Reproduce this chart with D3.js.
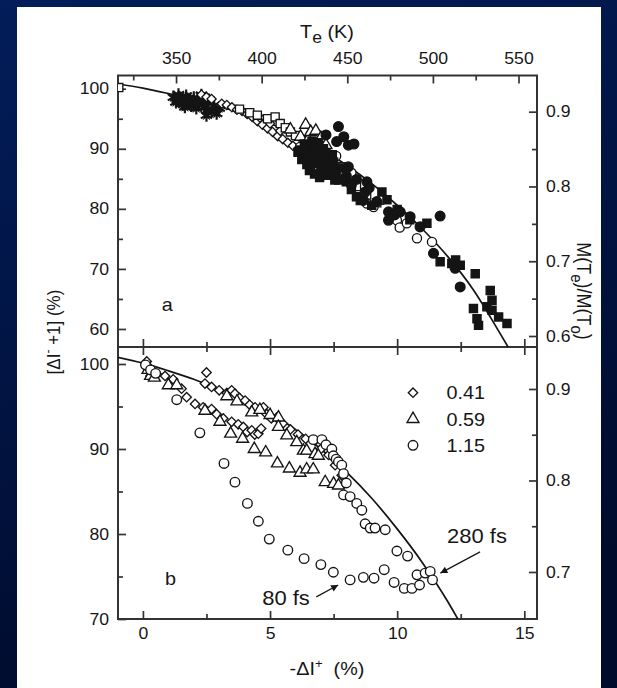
<!DOCTYPE html>
<html>
<head>
<meta charset="utf-8">
<script src="https://cdn.jsdelivr.net/npm/d3@7"></script>
<style>
  html, body { margin: 0; padding: 0; background: #001a55; }
  svg { display: block; }
  text { font-family: "Liberation Sans", Arial, Helvetica, sans-serif; fill: #161616; }
</style>
</head>
<body>
<svg id="chart" width="617" height="688"></svg>
<script>
// ---------- data ----------
// magnetisation fit curve, x = -ΔI+ (%), y = [ΔI- + 1] (%)
const fitX = [-1, 0, 1, 2, 3, 4, 5, 6, 7, 8, 9, 10, 11, 12, 13, 14, 14.6];
const fitY = [100.8, 100.1, 99.2, 98.2, 97.0, 95.8, 94.2, 92.3, 90.0, 87.3, 84.2, 80.6, 76.6, 72.0, 66.5, 59.6, 55.3];

// panel a series
const starsA = [[1.2,98.6],[1.3,97.8],[1.35,98.2],[1.4,99.0],[1.45,98.5],[1.5,98.2],[1.55,97.6],[1.6,97.4],[1.65,97.0],[1.7,98.8],[1.75,98.3],[1.8,97.9],[1.9,97.2],[2.0,98.5],[2.1,96.8],[2.2,97.6],[2.3,98.9],[2.35,98.0],[2.4,97.0],[2.5,95.6],[2.55,96.4],[2.6,98.1],[2.7,96.3],[2.8,97.2],[2.9,95.9],[3.0,96.8]];
const diamondsA = [[2.3,99.0],[2.5,98.6],[2.7,98.3],[3.1,97.5],[3.3,97.3],[3.5,96.9],[3.7,96.5],[3.9,96.3],[4.1,95.8],[4.3,95.3],[4.5,94.6],[4.6,95.2],[4.7,94.0],[4.9,93.4],[5.0,94.2],[5.1,92.8],[5.3,92.1],[5.4,93.0],[5.5,91.6],[5.7,91.0],[5.9,90.5],[6.1,90.0]];
const squaresA = [[-0.95,100.2],[3.8,96.6],[4.2,96.0],[4.5,95.6],[4.9,95.0],[5.2,95.3],[5.4,94.2],[5.6,93.5],[5.8,92.8],[6.0,92.2],[6.3,91.4],[6.6,90.5],[7.0,89.4],[7.4,88.2],[7.8,87.0],[8.2,85.4],[8.4,83.7],[8.8,82.3],[9.2,81.0]];
const trianglesA = [[5.8,93.2],[6.2,92.0],[6.4,94.0],[6.5,91.5],[6.6,92.8],[6.8,93.0],[7.0,91.8],[7.2,90.6]];
const openCirclesA = [[6.18,90.3],[7.0,89.8],[7.6,88.8],[8.2,86.0],[8.81,80.9],[9.07,80.3],[9.4,81.5],[9.99,78.1],[10.1,76.9],[10.38,77.6],[10.78,75.1],[11.37,74.5]];
const filledSquaresA = [[6.1,89.4],[6.2,89.8],[6.25,88.2],[6.3,88.6],[6.35,90.8],[6.4,90.5],[6.45,87.4],[6.5,89.0],[6.55,86.4],[6.6,88.0],[6.6,86.9],[6.65,91.3],[6.7,90.2],[6.75,85.8],[6.8,89.2],[6.85,88.3],[6.9,87.6],[6.9,91.0],[6.95,85.2],[7.0,88.7],[7.0,86.2],[7.05,89.8],[7.1,90.0],[7.15,87.8],[7.2,87.0],[7.2,89.4],[7.25,85.6],[7.3,88.5],[7.35,86.8],[7.4,86.0],[7.45,89.0],[7.5,87.8],[7.55,84.8],[7.6,85.5],[7.7,84.8],[7.8,86.8],[8.0,84.5],[8.2,83.2],[8.4,82.0],[8.55,81.4],[9.0,80.6],[9.4,82.8],[9.6,81.5],[10.0,79.9],[10.5,78.2],[11.17,77.6],[11.69,71.2],[12.15,70.9],[12.3,71.5],[12.48,70.6],[13.07,69.2],[13.0,63.4],[13.14,61.7],[13.2,60.6],[13.53,63.7],[13.66,66.4],[13.73,64.8],[13.73,63.1],[13.99,62.0],[14.32,60.9]];
const filledCirclesA = [[7.2,92.3],[7.5,86.5],[7.62,91.2],[7.69,93.7],[7.9,92.0],[8.0,85.5],[8.08,90.6],[8.08,87.0],[8.3,90.8],[8.4,84.9],[8.2,84.0],[8.67,81.4],[8.74,82.8],[8.81,84.5],[8.9,83.5],[9.2,81.2],[9.66,78.1],[9.66,79.5],[9.9,79.0],[10.12,79.5],[10.51,78.7],[10.9,77.0],[11.43,72.6],[11.69,78.8],[12.28,70.1],[12.48,67.0]];

// panel b series (legend values)
const diamondsB = [[0.15,100.3],[0.25,99.6],[0.3,98.6],[0.4,99.1],[0.55,98.8],
  [2.44,97.7],[2.5,99.0],[2.7,97.3],[3.0,96.9],[3.3,96.6],[3.49,96.9],[3.62,96.5],[3.8,96.0],[4.02,95.7],[4.2,95.2],[4.41,94.9],[4.74,94.9],[4.87,94.1],[5.05,93.6],[5.26,93.7],[5.5,93.0],[5.8,92.3],[6.1,91.7],[6.4,91.2],[6.77,91.0],[7.0,90.0],[7.3,89.3],[7.56,88.1],[7.82,86.9],
  [0.87,98.6],[1.19,98.2],[1.52,97.1],[1.72,96.1],[2.05,95.3],[2.37,94.9],[2.7,94.7],[2.9,94.1],[3.16,93.6],[3.49,93.2],[3.75,92.9],[3.95,92.6],[4.1,92.0],[4.28,92.2],[4.4,91.7],[4.54,91.8],[4.65,92.4]];
const trianglesB = [[0.2,99.3],[0.3,98.6],[0.45,98.4],[1.0,97.5],[1.33,97.5],[2.44,94.5],[3.03,93.2],
  [3.3,96.2],[3.7,95.6],[4.28,94.3],[4.6,94.6],[5.0,94.0],[5.33,93.7],[5.33,92.6],[5.66,91.6],[6.05,90.8],[6.31,89.8],[6.44,89.8],[6.77,89.4],[6.9,89.2],
  [3.45,91.8],[3.92,91.2],[4.38,90.0],[4.83,89.6],[5.29,88.3],[5.76,87.7],[6.18,87.2],[6.44,87.6],[6.7,87.6],[7.17,86.1],[7.5,85.9],[7.69,85.7]];
const circlesB = [[0.1,99.9],[0.3,99.3],[0.5,98.9],
  [1.33,95.8],[2.24,91.9],[3.19,88.3],[3.62,86.1],[4.11,83.6],[4.54,81.5],[4.97,79.4],[5.7,78.1],[6.34,77.1],[7.0,76.4],[7.49,75.5],[8.15,74.6],[8.67,74.9],[9.09,74.8],[9.49,75.8],[9.88,74.3],[10.28,73.6],[10.58,73.6],[10.88,74.0],[10.78,75.2],[11.1,75.4],[11.3,75.6],[11.39,74.6],
  [6.7,91.1],[7.04,91.1],[7.2,90.5],[7.43,90.0],[7.49,89.2],[7.6,88.8],[7.69,88.5],[7.82,88.1],[7.89,87.1],[8.0,86.0],[7.89,84.6],[8.15,84.4],[8.41,83.6],[8.61,82.8],[8.74,81.2],[8.94,80.7],[9.13,80.7],[9.53,80.5],[9.99,78.0],[10.41,77.4]];

// axes
const teTicks = [350, 400, 450, 500, 550];
const teMinor = [325, 375, 425, 475, 525];
const xTicks = [0, 5, 10, 15];
const xMinor = [2.5, 7.5, 12.5];
const yTicksA = [60, 70, 80, 90, 100];
const yMinorA = [65, 75, 85, 95];
const yTicksB = [70, 80, 90, 100];
const yMinorB = [75, 85, 95];
const mTicksA = [0.6, 0.7, 0.8, 0.9];
const mMinorA = [0.65, 0.75, 0.85];
const mTicksB = [0.7, 0.8, 0.9];
const mMinorB = [0.75, 0.85];
const legendLabels = ["0.41", "0.59", "1.15"];

// annotations: [label, textX, textY, arrowFromX, arrowFromY, arrowToX, arrowToY]
const note280 = ["280 fs", 11.96, 79.0, 13.26, 77.9, 11.7, 75.4];
const note80 = ["80 fs", 4.69, 71.6, 6.82, 72.6, 7.68, 74.0];
const panelTags = [["a", 0.74, 63.0], ["b", 0.87, 74.0]];

// ---------- layout ----------
const L = 118, R = 537, TOP = 75.5, MID = 347, BOT = 619;
const STRETCH = 1.1;

const svg = d3.select("#chart");
const defs = svg.append("defs");
const grad = defs.append("linearGradient").attr("id", "bg").attr("x1", 0).attr("y1", 0).attr("x2", 0.3).attr("y2", 1);
grad.append("stop").attr("offset", 0).attr("stop-color", "#021d5a");
grad.append("stop").attr("offset", 1).attr("stop-color", "#000b2c");
svg.append("rect").attr("width", 617).attr("height", 688).attr("fill", "url(#bg)");
svg.append("rect").attr("x", 17).attr("y", 7).attr("width", 584).attr("height", 681).attr("fill", "#ffffff");

const x = d3.scaleLinear().domain([-0.98, 15.5]).range([L, R]);
const te = d3.scaleLinear().domain([316.1, 560.8]).range([L, R]);
const yA = d3.scaleLinear().domain([57, 102.2]).range([MID, TOP]);
const mA = d3.scaleLinear().domain([0.5853, 0.9484]).range([MID, TOP]);
const yB = d3.scaleLinear().domain([70, 102]).range([BOT, MID]);
const mB = d3.scaleLinear().domain([0.6486, 0.9459]).range([BOT, MID]);

defs.append("clipPath").attr("id", "clipA").append("rect").attr("x", L).attr("y", TOP).attr("width", R - L).attr("height", MID - TOP);
defs.append("clipPath").attr("id", "clipB").append("rect").attr("x", L).attr("y", MID).attr("width", R - L).attr("height", BOT - MID);

// ---------- axes ----------
function stretchText(sel) {
  sel.selectAll("text").each(function () {
    const t = d3.select(this);
    const xv = +t.attr("x") || 0;
    t.attr("x", xv / STRETCH).attr("transform", `scale(${STRETCH},1)`);
  });
}
// ticks point into the plot frame (negative inner size)
function drawAxis(make, tx, ty, major, minor, fmt, pad) {
  const g = svg.append("g").attr("transform", `translate(${tx},${ty})`);
  g.call(make().tickValues(major).tickSizeInner(-8).tickSizeOuter(0).tickPadding(pad).tickFormat(fmt));
  const gm = svg.append("g").attr("transform", `translate(${tx},${ty})`);
  gm.call(make().tickValues(minor).tickSizeInner(-5).tickSizeOuter(0).tickFormat(() => ""));
  [g, gm].forEach(s => {
    s.attr("font-family", null).attr("font-size", 16);
    s.select(".domain").remove();
    s.selectAll("line").attr("stroke", "#333").attr("stroke-width", 1.7);
    s.selectAll("text").attr("fill", "#161616");
  });
  stretchText(g);
  return g;
}
const none = () => "";
drawAxis(() => d3.axisTop(te), 0, TOP, teTicks, teMinor, d3.format("d"), 11.5);
drawAxis(() => d3.axisLeft(yA), L, 0, yTicksA, yMinorA, d3.format("d"), 9);
drawAxis(() => d3.axisRight(mA), R, 0, mTicksA, mMinorA, d3.format(".1f"), 9);
drawAxis(() => d3.axisBottom(x), 0, MID, xTicks, xMinor, none, 0);   // panel a bottom edge
drawAxis(() => d3.axisTop(x), 0, MID, xTicks, xMinor, none, 0);      // panel b top edge
drawAxis(() => d3.axisLeft(yB), L, 0, yTicksB, yMinorB, d3.format("d"), 9);
drawAxis(() => d3.axisRight(mB), R, 0, mTicksB, mMinorB, d3.format(".1f"), 9);
drawAxis(() => d3.axisBottom(x), 0, BOT, xTicks, xMinor, d3.format("d"), 9);

// frames
[[TOP, MID], [MID, BOT]].forEach(([t, b]) => {
  svg.append("rect").attr("x", L).attr("y", t).attr("width", R - L).attr("height", b - t)
    .attr("fill", "none").attr("stroke", "#333").attr("stroke-width", 2);
});

// ---------- marks ----------
const sym = (type, size) => d3.symbol().type(type).size(size)();
const ink = "#141414";

function plot(g, data, xs, ys, shape, size, filled, rot, sw) {
  g.append("g").selectAll("path").data(data).join("path")
    .attr("d", sym(shape, size))
    .attr("transform", d => `translate(${xs(d[0])},${ys(d[1])})${rot ? " rotate(45)" : ""}`)
    .attr("fill", filled ? ink : "#fff")
    .attr("stroke", ink)
    .attr("stroke-width", sw || 1.35);
}

const line = (ys) => d3.line().x((d, i) => x(fitX[i])).y((d, i) => ys(fitY[i])).curve(d3.curveMonotoneX);

// panel a
const gA = svg.append("g").attr("clip-path", "url(#clipA)");
gA.append("path").datum(fitY).attr("d", line(yA)).attr("fill", "none").attr("stroke", ink).attr("stroke-width", 1.7);
const starG = gA.append("g");
starG.selectAll("path.core").data(starsA).join("path").attr("class", "core")
  .attr("d", sym(d3.symbolStar, 45))
  .attr("transform", d => `translate(${x(d[0])},${yA(d[1])})`)
  .attr("fill", ink);
starG.selectAll("path.ray").data(starsA).join("path").attr("class", "ray")
  .attr("d", sym(d3.symbolAsterisk, 120))
  .attr("transform", d => `translate(${x(d[0])},${yA(d[1])})`)
  .attr("fill", "none").attr("stroke", ink).attr("stroke-width", 2.2);
plot(gA, diamondsA, x, yA, d3.symbolSquare, 42, false, true);
plot(gA, squaresA, x, yA, d3.symbolSquare, 66, false, false);
plot(gA, trianglesA, x, yA, d3.symbolTriangle, 62, false, false);
plot(gA, openCirclesA, x, yA, d3.symbolCircle, 66, false, false);
plot(gA, filledSquaresA, x, yA, d3.symbolSquare, 66, true, false);
plot(gA, filledCirclesA, x, yA, d3.symbolCircle, 74, true, false);

// panel b
const gB = svg.append("g").attr("clip-path", "url(#clipB)");
gB.append("path").datum(fitY).attr("d", line(yB)).attr("fill", "none").attr("stroke", ink).attr("stroke-width", 1.7);
plot(gB, diamondsB, x, yB, d3.symbolSquare, 44, false, true);
plot(gB, trianglesB, x, yB, d3.symbolTriangle, 62, false, false);
plot(gB, circlesB, x, yB, d3.symbolCircle, 72, false, false);

// ---------- text ----------
function txt(px, py, str, size, anchor) {
  return svg.append("text")
    .attr("transform", `translate(${px},${py}) scale(${STRETCH},1)`)
    .attr("font-size", size).attr("text-anchor", anchor || "start").text(str);
}

// legend
const legendShapes = [[d3.symbolSquare, 44, true], [d3.symbolTriangle, 62, false], [d3.symbolCircle, 72, false]];
legendLabels.forEach((lab, i) => {
  const cy = 392.7 + i * 26.3;
  const [shape, size, rot] = legendShapes[i];
  svg.append("path").attr("d", sym(shape, size))
    .attr("transform", `translate(413,${cy})${rot ? " rotate(45)" : ""}`)
    .attr("fill", "#fff").attr("stroke", ink).attr("stroke-width", 1.35);
  txt(446.5, cy + 6.6, lab, 18);
});

// panel tags
txt(x(panelTags[0][1]), yA(panelTags[0][2]), panelTags[0][0], 18);
txt(x(panelTags[1][1]), yB(panelTags[1][2]), panelTags[1][0], 18);

// annotations with arrows
defs.append("marker").attr("id", "arrow").attr("viewBox", "0 0 10 10").attr("refX", 10).attr("refY", 5)
  .attr("markerWidth", 9).attr("markerHeight", 7).attr("markerUnits", "userSpaceOnUse").attr("orient", "auto")
  .append("path").attr("d", "M0,0 L10,5 L0,10 z").attr("fill", ink);
[note280, note80].forEach(n => {
  txt(x(n[1]), yB(n[2]), n[0], 20);
  svg.append("line")
    .attr("x1", x(n[3])).attr("y1", yB(n[4])).attr("x2", x(n[5])).attr("y2", yB(n[6]))
    .attr("stroke", ink).attr("stroke-width", 1.2).attr("marker-end", "url(#arrow)");
});

// axis titles
const tTop = txt(327, 38, "", 18, "middle");
tTop.append("tspan").text("T");
tTop.append("tspan").attr("dy", 5).attr("font-size", 16).text("e");
tTop.append("tspan").attr("dy", -5).text(" (K)");

const tBot = txt(327, 675, "", 18, "middle");
tBot.append("tspan").text("-ΔI");
tBot.append("tspan").attr("dy", -7).attr("font-size", 12).text("+");
tBot.append("tspan").attr("dy", 7).attr("dx", 10).text("(%)");

const tLeft = svg.append("text").attr("transform", `translate(60,332) rotate(-90) scale(1,${STRETCH})`)
  .attr("font-size", 17).attr("text-anchor", "middle");
tLeft.append("tspan").text("[ΔI");
tLeft.append("tspan").attr("dy", -7).attr("font-size", 12).text("-");
tLeft.append("tspan").attr("dy", 7).text(" +1] (%)");

const tRight = svg.append("text").attr("transform", `translate(577,291) rotate(90) scale(1,${STRETCH})`)
  .attr("font-size", 18).attr("text-anchor", "middle");
tRight.append("tspan").text("M(T");
tRight.append("tspan").attr("dy", 5).attr("font-size", 15).text("e");
tRight.append("tspan").attr("dy", -5).text(")/M(T");
tRight.append("tspan").attr("dy", 5).attr("font-size", 15).text("o");
tRight.append("tspan").attr("dy", -5).text(")");
</script>
</body>
</html>
